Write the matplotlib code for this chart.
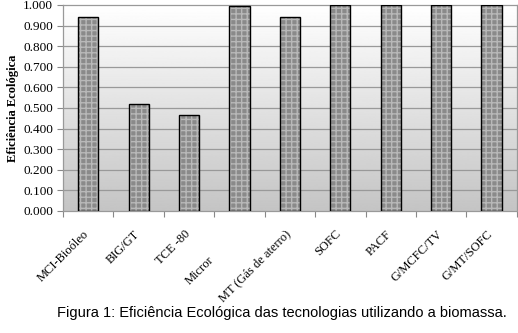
import numpy as np
import matplotlib
matplotlib.use("Agg")
import matplotlib.pyplot as plt
from matplotlib.transforms import ScaledTranslation

# data
tecnologias = ["MCI-Bioóleo", "BIG/GT", "TCE -80", "Micror", "MT (Gás de aterro)",
               "SOFC", "PACF", "G/MCFC/TV", "G/MT/SOFC"]
eficiencia = [0.940, 0.521, 0.464, 0.997, 0.943, 0.998, 0.998, 0.998, 0.998]
y_ticks = [0.0, 0.1, 0.2, 0.3, 0.4, 0.5, 0.6, 0.7, 0.8, 0.9, 1.0]

fig = plt.figure(figsize=(5.18, 3.33), dpi=100)
ax = fig.add_axes([0.1216, 0.3664, 0.876, 0.6186])

n = len(tecnologias)
x = np.arange(n)

# gradient background (grey at top, white at bottom)
grad = np.linspace(0.77, 1.0, 256).reshape(-1, 1)
ax.imshow(grad, cmap="gray", vmin=0, vmax=1, aspect="auto",
          extent=[-0.5, n - 0.5, 1.0, 0.0], zorder=0)

for t in y_ticks[1:-1]:
    ax.axhline(t, color="#999999", lw=0.9, zorder=1)

# hatched fill and black outline drawn separately
ax.bar(x, eficiencia, width=0.4, color="#8a8a8a", edgecolor="#b8b8b8",
       hatch="+++", linewidth=0, zorder=2)
ax.bar(x, eficiencia, width=0.4, fill=False, edgecolor="black",
       linewidth=1.0, zorder=3)

ax.set_xlim(-0.5, n - 0.5)
ax.set_ylim(0, 1.0)
ax.set_yticks(y_ticks)
ax.set_yticklabels(["%.3f" % t for t in y_ticks], family="Liberation Serif", fontsize=9.5)

ax.set_xticks(np.arange(n + 1) - 0.5)
ax.set_xticklabels([])
ax.tick_params(axis="x", length=4, color="#888888")
ax.tick_params(axis="y", length=4, color="#888888", pad=3)

# category labels drawn as text so each one can be nudged like the original
for i, lab in enumerate(tecnologias):
    dx, dy = -0.05, -0.17
    if lab == "Micror":
        dx, dy = -0.32, -0.43
    off = ScaledTranslation(dx, dy, fig.dpi_scale_trans)
    ax.text(i, 0, lab, transform=ax.get_xaxis_transform() + off,
            rotation=45, rotation_mode="anchor", ha="right", va="top",
            family="Liberation Serif", fontsize=9)

for s in ax.spines.values():
    s.set_color("#999999")
    s.set_linewidth(0.9)

ax.set_ylabel("Eficiência Ecológica", family="Liberation Serif", fontweight="bold",
              fontsize=9, labelpad=3)

fig.text(0.545, 0.06, "Figura 1: Eficiência Ecológica das tecnologias utilizando a biomassa.",
         ha="center", va="center", family="Liberation Sans", fontsize=10.5)

fig.savefig("out.png", dpi=100)
